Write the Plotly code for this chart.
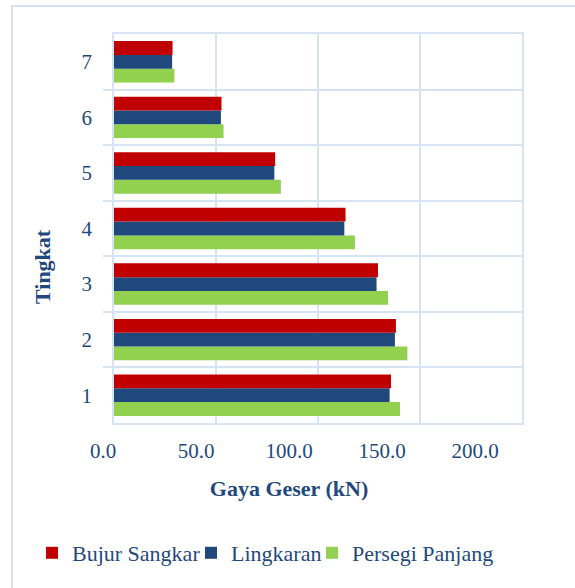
import plotly.graph_objects as go

# Storey levels and shear forces (kN) per column shape
tingkat = [1, 2, 3, 4, 5, 6, 7]
bujur_sangkar = [135.8, 138.2, 129.4, 113.5, 79.0, 52.7, 28.7]
lingkaran = [135.1, 137.7, 128.7, 112.9, 78.6, 52.4, 28.5]
persegi_panjang = [140.2, 143.8, 134.3, 118.1, 81.8, 53.7, 29.6]
x_ticks = [0, 50, 100, 150, 200]

W, H = 575, 588
ML, MR, MT, MB = 8, 8, 34, 165
PW = W - ML - MR
PH = H - MT - MB


def px_x(p):
    return (p - ML) / PW


def px_y(p):
    return (H - MB - p) / PH


GRID = "#D6E3F3"
TXT = "#1F497D"
FONT = "Liberation Serif, Times New Roman, serif"
TICK_FS = 21
TITLE_FS = 22
LEG_FS = 22

fig = go.Figure()
# trace order: bottom bar of each group first; legendwidth sets entry spacing
series = [
    ("Persegi Panjang", persegi_panjang, "#92D050", 150),
    ("Lingkaran", lingkaran, "#1F497D", 76),
    ("Bujur Sangkar", bujur_sangkar, "#C00000", 114),
]
for name, vals, col, lw in series:
    fig.add_trace(go.Bar(y=tingkat, x=vals, name=name, orientation="h",
                         legendwidth=lw,
                         marker=dict(color=col, line=dict(width=0))))

# label axis for the value ticks and title
fig.add_trace(go.Scatter(x=[None], y=[None], xaxis="x2", yaxis="y",
                         showlegend=False, hoverinfo="skip"))

fig.update_layout(
    width=W, height=H,
    margin=dict(l=ML, r=MR, t=MT, b=MB, autoexpand=False),
    paper_bgcolor="white",
    plot_bgcolor="rgba(0,0,0,0)",
    barmode="group", bargap=0.255, bargroupgap=0,
    font=dict(family=FONT, size=TICK_FS, color=TXT),
    xaxis=dict(domain=[px_x(114), px_x(522)], range=[0, 200],
               tickvals=x_ticks, showticklabels=False,
               showgrid=True, gridcolor=GRID, gridwidth=1.5,
               showline=True, mirror=True, linecolor=GRID, linewidth=1.5,
               zeroline=False),
    xaxis2=dict(domain=[px_x(103), px_x(475)], range=[0, 200], anchor="y",
                tickvals=x_ticks, tickformat=".1f",
                showgrid=False, showline=False, zeroline=False,
                ticklabelstandoff=13,
                tickfont=dict(family=FONT, size=TICK_FS, color=TXT),
                title=dict(text="<b>Gaya Geser (kN)</b>", standoff=18,
                           font=dict(family=FONT, size=TITLE_FS, color=TXT))),
    yaxis=dict(domain=[0, 1], range=[0.5, 7.5],
               tickvals=tingkat, ticktext=[str(t) for t in tingkat],
               showgrid=False, zeroline=False,
               showline=True, mirror=True, linecolor=GRID, linewidth=1.5,
               ticklabelstandoff=16,
               tickfont=dict(family=FONT, size=TICK_FS, color=TXT),
               minor=dict(tickvals=[1.5, 2.5, 3.5, 4.5, 5.5, 6.5],
                          showgrid=True, gridcolor=GRID, gridwidth=1.5,
                          ticks="")),
    legend=dict(orientation="h", traceorder="reversed",
                x=px_x(32), xanchor="left", y=px_y(553), yanchor="middle",
                font=dict(family=FONT, size=LEG_FS, color=TXT),
                itemwidth=30, bgcolor="rgba(0,0,0,0)"),
    showlegend=True,
)

fig.add_annotation(text="<b>Tingkat</b>", textangle=-90, showarrow=False,
                   xref="paper", yref="paper", x=px_x(42), y=px_y(267),
                   xanchor="center", yanchor="middle",
                   font=dict(family=FONT, size=TITLE_FS, color=TXT))

# outer chart frame
fig.add_shape(type="rect", xref="paper", yref="paper",
              x0=px_x(12), x1=px_x(585), y0=px_y(598), y1=px_y(6),
              line=dict(color=GRID, width=2), fillcolor="rgba(0,0,0,0)",
              layer="below")

fig.write_html("out.html")
